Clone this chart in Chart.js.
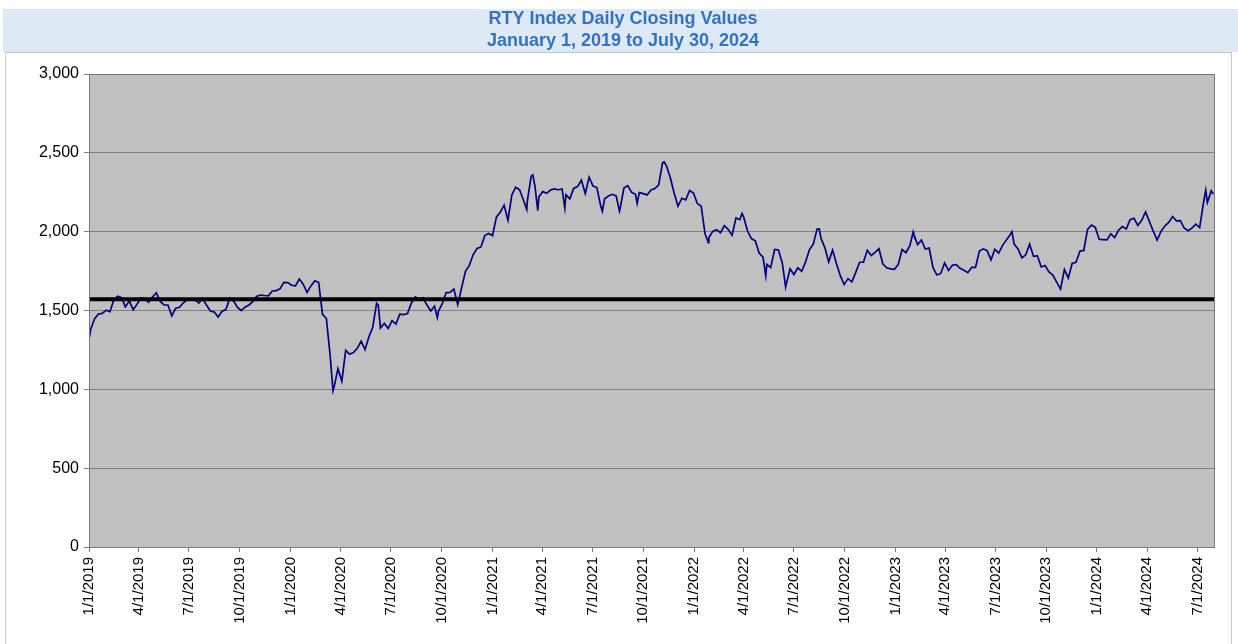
<!DOCTYPE html>
<html>
<head>
<meta charset="utf-8">
<title>RTY Index Daily Closing Values</title>
<script src="https://cdn.jsdelivr.net/npm/chart.js@4.4.1/dist/chart.umd.min.js"></script>
<style>
  html, body { margin: 0; padding: 0; background: #ffffff; }
  #wrap { position: relative; width: 1238px; height: 644px; }
</style>
</head>
<body>
<div id="wrap"><canvas id="rtyChart"></canvas></div>
<script>
// Weekly closes (Friday / last trading day of the week)
const firstWeekEnding = '2019-01-04';
const close2019 = [1380, 1447, 1478, 1482, 1502, 1493, 1569, 1590, 1582, 1523, 1561, 1505, 1540,
  1580, 1574, 1553, 1586, 1612, 1557, 1536, 1535, 1466, 1514, 1520, 1549, 1567, 1568, 1569, 1547,
  1576, 1533, 1497, 1490, 1459, 1495, 1506, 1578, 1560, 1520, 1500, 1523, 1535, 1558, 1590, 1598,
  1595, 1593, 1624, 1626, 1637, 1678, 1677];
const close2020 = [1660, 1656, 1700, 1667, 1614, 1656, 1688, 1679, 1476, 1449, 1210, 1014, 1131,
  1052, 1247, 1223, 1233, 1260, 1306, 1252, 1332, 1394, 1546, 1388, 1418, 1386, 1436, 1414, 1477,
  1474, 1480, 1548, 1586, 1573, 1581, 1536, 1497, 1528, 1495, 1544, 1614, 1615, 1636, 1538, 1644,
  1748, 1786, 1855, 1893, 1903, 1975, 1988, 1975];
const close2021 = [2092, 2123, 2168, 2073, 2233, 2282, 2266, 2201, 2192, 2352, 2285, 2221, 2254,
  2243, 2264, 2271, 2266, 2271, 2234, 2208, 2274, 2286, 2327, 2241, 2346, 2289, 2280, 2163, 2209,
  2226, 2237, 2227, 2143, 2277, 2292, 2249, 2237, 2248, 2241, 2233, 2264, 2273, 2297, 2437, 2418,
  2343, 2245, 2162, 2212, 2202, 2261, 2245];
const close2022 = [2179, 2162, 1987, 1963, 2002, 2012, 1993, 2038, 2014, 1978, 2087, 2076, 2092,
  2004, 1956, 1942, 1864, 1839, 1792, 1773, 1887, 1883, 1800, 1665, 1765, 1728, 1770, 1749, 1807,
  1885, 1921, 2016, 1958, 1899, 1809, 1883, 1798, 1721, 1665, 1702, 1682, 1742, 1806, 1807, 1882,
  1849, 1869, 1892, 1796, 1771, 1764, 1761];
const close2023 = [1792, 1887, 1867, 1911, 1985, 1918, 1946, 1890, 1896, 1772, 1725, 1735, 1802,
  1754, 1787, 1791, 1768, 1755, 1740, 1773, 1773, 1877, 1891, 1880, 1821, 1888, 1864, 1913, 1948,
  1982, 1921, 1891, 1834, 1853, 1921, 1844, 1847, 1776, 1785, 1745, 1725, 1680, 1636, 1760, 1705,
  1798, 1806, 1876, 1881, 2014, 2042, 2027];
const close2024 = [1952, 1950, 1948, 1986, 1962, 2009, 2032, 2017, 2076, 2085, 2039, 2072, 2125,
  2064, 2003, 1947, 2002, 2036, 2059, 2096, 2069, 2070, 2023, 2006, 2022, 2048, 2026, 2184, 2185,
  2260];

// Mid-week highs / lows that stand out on the chart
const extraDates = ['2019-01-02', '2020-03-18', '2020-06-08', '2020-09-23', '2021-03-04',
  '2021-03-15', '2021-03-24', '2021-05-12', '2021-07-19', '2021-08-19', '2021-09-20', '2021-11-08',
  '2022-01-27', '2022-03-29', '2022-05-11', '2022-06-16', '2022-08-16', '2023-02-02', '2023-07-31',
  '2024-07-16', '2024-07-30'];
const extraValues = [1332, 991, 1535, 1455, 2140, 2360, 2134, 2150, 2130, 2130, 2180, 2442,
  1931, 2115, 1720, 1649, 2017, 1998, 1999, 2263, 2238];

const referenceLevel = 1572;
const tickLabels = ['1/1/2019', '4/1/2019', '7/1/2019', '10/1/2019', '1/1/2020', '4/1/2020',
  '7/1/2020', '10/1/2020', '1/1/2021', '4/1/2021', '7/1/2021', '10/1/2021', '1/1/2022', '4/1/2022',
  '7/1/2022', '10/1/2022', '1/1/2023', '4/1/2023', '7/1/2023', '10/1/2023', '1/1/2024', '4/1/2024',
  '7/1/2024'];
const axisStart = '2019-01-01';
const axisEnd = '2024-07-31';
const yTicks = [0, 500, 1000, 1500, 2000, 2500, 3000];

const DAY = 86400000;
const origin = Date.parse(axisStart + 'T00:00:00Z');
function dayOf(iso) {
  return Math.round((Date.parse(iso + 'T00:00:00Z') - origin) / DAY);
}
function dayOfUS(label) {
  const [m, d, y] = label.split('/').map(Number);
  return Math.round((Date.UTC(y, m - 1, d) - origin) / DAY);
}

const weekly = [].concat(close2019, close2020, close2021, close2022, close2023, close2024);
const firstWeek = dayOf(firstWeekEnding);
const points = weekly.map((v, i) => ({ x: firstWeek + i * 7, y: v }))
  .concat(extraDates.map((d, i) => ({ x: dayOf(d), y: extraValues[i] })))
  .sort((a, b) => a.x - b.x);

const xMax = dayOf(axisEnd);
const tickDays = tickLabels.map(dayOfUS);
const labelByDay = {};
tickDays.forEach((d, i) => { labelByDay[d] = tickLabels[i]; });

const FONT = "'Liberation Sans', Arial, sans-serif";

const frame = {
  id: 'frame',
  beforeDraw(chart) {
    const { ctx, chartArea: a } = chart;
    ctx.save();
    ctx.fillStyle = '#ffffff';
    ctx.fillRect(0, 0, chart.width, chart.height);
    // title band
    ctx.fillStyle = '#dde9f4';
    ctx.fillRect(3, 9, chart.width - 3, 43);
    // outer chart box
    ctx.strokeStyle = '#c6c6c6';
    ctx.lineWidth = 1;
    ctx.strokeRect(5.5, 52.5, 1226, 620);
    // plot background
    ctx.fillStyle = '#c0c0c0';
    ctx.fillRect(a.left, a.top, a.right - a.left, a.bottom - a.top);
    ctx.restore();
  },
  afterDraw(chart) {
    const { ctx, chartArea: a } = chart;
    ctx.save();
    ctx.strokeStyle = '#7a7a7a';
    ctx.lineWidth = 1;
    ctx.strokeRect(Math.round(a.left) + 0.5, Math.round(a.top) + 0.5,
      Math.round(a.right - a.left), Math.round(a.bottom - a.top));
    ctx.fillStyle = '#3572c6';
    ctx.font = 'bold 18px ' + FONT;
    ctx.textAlign = 'center';
    ctx.textBaseline = 'middle';
    ctx.fillText('RTY Index Daily Closing Values', 623, 19);
    ctx.fillText('January 1, 2019 to July 30, 2024', 623, 41);
    ctx.restore();
  }
};

new Chart(document.getElementById('rtyChart'), {
  type: 'line',
  data: {
    datasets: [{
      label: 'Reference',
      data: [{ x: 0, y: referenceLevel }, { x: xMax, y: referenceLevel }],
      borderColor: '#000000',
      borderWidth: 4,
      pointRadius: 0,
      fill: false
    }, {
      label: 'RTY Index',
      data: points,
      borderColor: '#000080',
      borderWidth: 1.7,
      pointRadius: 0,
      tension: 0,
      fill: false
    }]
  },
  options: {
    responsive: true,
    maintainAspectRatio: false,
    animation: false,
    layout: { padding: { top: 74, left: 0, right: 24, bottom: 0 } },
    plugins: {
      legend: { display: false },
      title: { display: false },
      tooltip: { enabled: false }
    },
    scales: {
      x: {
        type: 'linear',
        min: 0,
        max: xMax,
        afterFit(s) { s.height = 97; },
        afterBuildTicks(s) { s.ticks = tickDays.map(v => ({ value: v })); },
        grid: { drawOnChartArea: false, drawTicks: true, tickLength: 5, color: '#7a7a7a' },
        border: { display: true, color: '#7a7a7a' },
        ticks: {
          autoSkip: false,
          minRotation: 90,
          maxRotation: 90,
          padding: 5,
          color: '#000000',
          font: { family: FONT, size: 15 },
          callback: v => labelByDay[v] || ''
        }
      },
      y: {
        min: 0,
        max: 3000,
        afterFit(s) { s.width = 89; },
        afterBuildTicks(s) { s.ticks = yTicks.map(v => ({ value: v })); },
        grid: { color: '#808080', tickLength: 5, drawTicks: true },
        border: { display: true, color: '#7a7a7a' },
        ticks: {
          padding: 5,
          color: '#000000',
          font: { family: FONT, size: 16 },
          callback: v => v.toLocaleString('en-US')
        }
      }
    }
  },
  plugins: [frame]
});
</script>
</body>
</html>
